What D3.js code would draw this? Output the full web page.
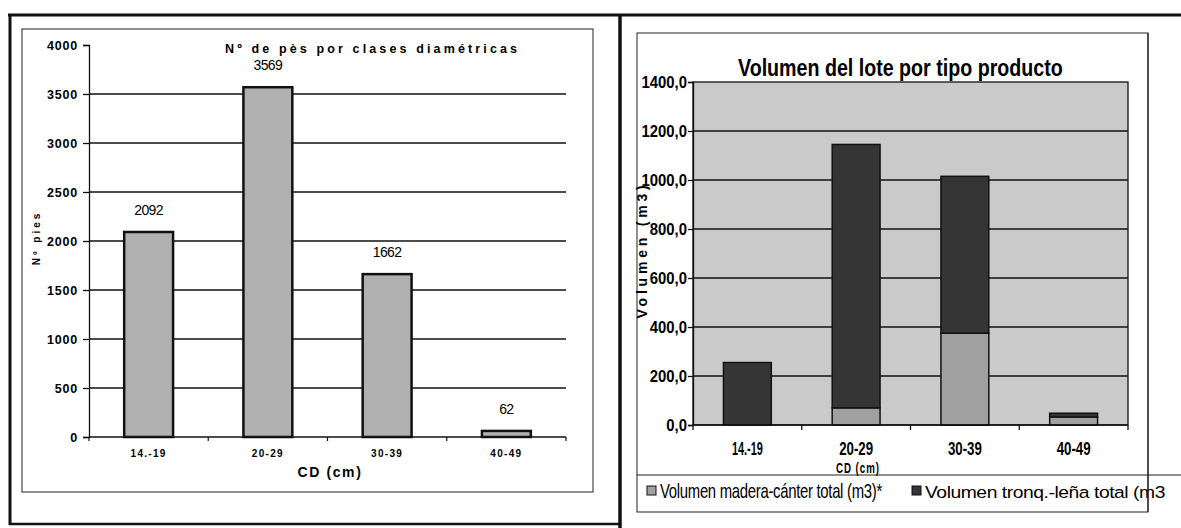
<!DOCTYPE html>
<html>
<head>
<meta charset="utf-8">
<script src="https://cdn.jsdelivr.net/npm/d3@7"></script>
<style>
body { margin: 0; background: #fff; }
text { fill: #000; }
</style>
</head>
<body>
<svg id="chart" width="1181" height="528"></svg>
<script>
// categorias de diametro
const categories = ["14.-19", "20-29", "30-39", "40-49"];
// n de pies por clase
const pies = [2092, 3569, 1662, 62];
const pieTicks = [0, 500, 1000, 1500, 2000, 2500, 3000, 3500, 4000];
// volumen por tipo de producto (m3)
const maderaVol = [0, 70, 375, 33];
const troncoVol = [255, 1075, 640, 15];
const volTicks = [0, 200, 400, 600, 800, 1000, 1200, 1400];
const seriesNames = ["Volumen madera-cánter total (m3)*", "Volumen tronq.-leña total (m3"];

const svg = d3.select("#chart");
const arial = "'Liberation Sans', Arial, sans-serif";

// texto estrechado (imita Arial Narrow): ajusta el ancho con scale horizontal
function squeeze(t, x, y, w, anchor) {
    t.attr("x", 0).attr("y", 0).attr("text-anchor", "start");
    let len = t.node().getComputedTextLength();
    let s = w / len;
    let x0 = anchor == "middle" ? x - w / 2 : (anchor == "end" ? x - w : x);
    t.attr("transform", "translate(" + x0 + "," + y + ") scale(" + s + ",1)");
    return t;
}

// marcos
svg.append("line").attr("x1", 8).attr("x2", 1181).attr("y1", 15).attr("y2", 15)
    .attr("stroke", "#111").attr("stroke-width", 3);
svg.append("line").attr("x1", 10).attr("x2", 10).attr("y1", 14).attr("y2", 525)
    .attr("stroke", "#111").attr("stroke-width", 3);
svg.append("line").attr("x1", 9).attr("x2", 620).attr("y1", 524).attr("y2", 524)
    .attr("stroke", "#111").attr("stroke-width", 2.5);
svg.append("line").attr("x1", 620).attr("x2", 620).attr("y1", 14).attr("y2", 528)
    .attr("stroke", "#111").attr("stroke-width", 3.5);

// ---------- grafico 1: n de pies ----------
let g1 = svg.append("g");
g1.append("rect").attr("x", 22).attr("y", 29).attr("width", 571).attr("height", 463)
    .attr("fill", "#fff").attr("stroke", "#222").attr("stroke-width", 1);

var x1 = d3.scaleBand().domain(categories).range([89, 566]).paddingInner(0.59).paddingOuter(0.295);
var y1 = d3.scaleLinear().domain([0, 4000]).range([437, 45]);

g1.selectAll(".grid").data(pieTicks.filter(d => d > 0 && d < 4000)).enter().append("line")
    .attr("x1", 89).attr("x2", 566)
    .attr("y1", d => y1(d)).attr("y2", d => y1(d))
    .attr("stroke", "#111").attr("stroke-width", 1.3);

let ax1 = g1.append("g").attr("transform", "translate(89,0)")
    .call(d3.axisLeft(y1).tickValues(pieTicks).tickSize(6).tickPadding(5).tickFormat(d3.format("d")));
ax1.select(".domain").attr("stroke", "#111").attr("stroke-width", 1.3);
ax1.selectAll("line").attr("stroke", "#111").attr("stroke-width", 1.3);
ax1.selectAll("text").attr("font-family", arial).attr("font-weight", "bold")
    .attr("font-size", 12.5).attr("letter-spacing", 0.8).attr("fill", "#000");

// eje x
g1.append("line").attr("x1", 89).attr("x2", 566).attr("y1", y1(0)).attr("y2", y1(0))
    .attr("stroke", "#111").attr("stroke-width", 1.5);
var step1 = x1.step();
g1.selectAll(".xt").data(d3.range(categories.length + 1)).enter().append("line")
    .attr("x1", i => 89 + i * step1).attr("x2", i => 89 + i * step1)
    .attr("y1", y1(0)).attr("y2", y1(0) + 4)
    .attr("stroke", "#111").attr("stroke-width", 1.2);

g1.selectAll(".bar").data(pies).enter().append("rect")
    .attr("x", (d, i) => x1(categories[i]))
    .attr("y", d => y1(d))
    .attr("width", x1.bandwidth())
    .attr("height", d => y1(0) - y1(d))
    .attr("fill", "#b0b0b0").attr("stroke", "#111").attr("stroke-width", 2.5);

g1.selectAll(".lab").data(pies).enter().append("text")
    .attr("x", (d, i) => x1(categories[i]) + x1.bandwidth() / 2)
    .attr("y", d => y1(d) - 17)
    .attr("text-anchor", "middle").attr("font-family", arial).attr("font-size", 14)
    .attr("letter-spacing", -0.6)
    .text(d => d);

g1.selectAll(".xl").data(categories).enter().append("text")
    .attr("x", d => x1(d) + x1.bandwidth() / 2).attr("y", 457)
    .attr("text-anchor", "middle").attr("font-family", arial).attr("font-weight", "bold")
    .attr("font-size", 10).attr("letter-spacing", 1.3)
    .text(d => d);

g1.append("text").attr("x", 330).attr("y", 477).attr("text-anchor", "middle")
    .attr("font-family", arial).attr("font-weight", "bold").attr("font-size", 14)
    .attr("letter-spacing", 1.6).text("CD (cm)");

g1.append("text").attr("x", 225).attr("y", 53)
    .attr("font-family", arial).attr("font-weight", "bold").attr("font-size", 12.5)
    .attr("textLength", 292).attr("lengthAdjust", "spacing")
    .text("Nº de pès por clases diamétricas");

g1.append("text").attr("transform", "translate(40,238) rotate(-90)")
    .attr("text-anchor", "middle").attr("font-family", arial).attr("font-weight", "bold")
    .attr("font-size", 10).attr("letter-spacing", 3).text("Nº pies");

// ---------- grafico 2: volumen ----------
let g2 = svg.append("g");
g2.append("rect").attr("x", 637).attr("y", 33).attr("width", 511).attr("height", 479)
    .attr("fill", "#fff").attr("stroke", "#222").attr("stroke-width", 1);

var x2 = d3.scaleBand().domain(categories).range([693, 1128]).paddingInner(0.56).paddingOuter(0.28);
var y2 = d3.scaleLinear().domain([0, 1400]).range([425, 82]);

g2.append("rect").attr("x", 693).attr("y", y2(1400)).attr("width", 1128 - 693)
    .attr("height", y2(0) - y2(1400)).attr("fill", "#cacaca")
    .attr("stroke", "#111").attr("stroke-width", 1.3);

g2.selectAll(".grid").data(volTicks.filter(d => d > 0 && d < 1400)).enter().append("line")
    .attr("x1", 693).attr("x2", 1128)
    .attr("y1", d => y2(d)).attr("y2", d => y2(d))
    .attr("stroke", "#111").attr("stroke-width", 1.3);

let stack = d3.stack().keys([0, 1])(categories.map((c, i) => [maderaVol[i], troncoVol[i]]));
let fills = ["#a0a0a0", "#353535"];

stack.forEach(function(layer, k) {
    g2.selectAll(".s" + k).data(layer).enter().append("rect")
        .attr("x", (d, i) => x2(categories[i]))
        .attr("y", d => y2(d[1]))
        .attr("width", x2.bandwidth())
        .attr("height", d => y2(d[0]) - y2(d[1]))
        .attr("fill", fills[k]).attr("stroke", "#111").attr("stroke-width", 1.5);
});

let ax2 = g2.append("g").attr("transform", "translate(693,0)")
    .call(d3.axisLeft(y2).tickValues(volTicks).tickSize(5).tickPadding(3)
        .tickFormat(d => d.toFixed(1).replace(".", ",")));
ax2.select(".domain").attr("stroke", "#111").attr("stroke-width", 1.3);
ax2.selectAll("line").attr("stroke", "#111").attr("stroke-width", 1.3);
ax2.selectAll("text").attr("font-family", arial).attr("font-weight", "bold")
    .attr("font-size", 16).attr("fill", "#000")
    .attr("x", 0).attr("transform", "translate(-6,0) scale(0.93,1)");

g2.append("line").attr("x1", 693).attr("x2", 1128).attr("y1", y2(0)).attr("y2", y2(0))
    .attr("stroke", "#111").attr("stroke-width", 1.5);
var step2 = x2.step();
g2.selectAll(".xt").data(d3.range(categories.length + 1)).enter().append("line")
    .attr("x1", i => 693 + i * step2).attr("x2", i => 693 + i * step2)
    .attr("y1", y2(0)).attr("y2", y2(0) + 5)
    .attr("stroke", "#111").attr("stroke-width", 1.3);

g2.selectAll(".xl").data(categories).enter().append("text")
    .attr("font-family", arial).attr("font-weight", "bold").attr("font-size", 18)
    .text(d => d)
    .each(function(d) {
        squeeze(d3.select(this), x2(d) + x2.bandwidth() / 2, 455, d == "14.-19" ? 31 : 34, "middle");
    });

squeeze(g2.append("text").attr("font-family", arial).attr("font-weight", "bold")
    .attr("font-size", 15).attr("letter-spacing", 1.5).text("CD (cm)"), 858, 473, 44, "middle");

squeeze(g2.append("text").attr("font-family", arial).attr("font-weight", "bold")
    .attr("font-size", 23).text("Volumen del lote por tipo producto"), 738, 76, 325, "start");

g2.append("text").attr("transform", "translate(647,250) rotate(-90)")
    .attr("text-anchor", "middle").attr("font-family", arial).attr("font-weight", "bold")
    .attr("font-size", 14).attr("letter-spacing", 3.8).text("Volumen (m3)");

// leyenda
g2.append("line").attr("x1", 637).attr("x2", 1181).attr("y1", 475).attr("y2", 475)
    .attr("stroke", "#222").attr("stroke-width", 1.2);
let legX = [647, 912], legW = [222, 240], legS = [20, 16.5];
seriesNames.forEach(function(name, k) {
    g2.append("rect").attr("x", legX[k]).attr("y", 486).attr("width", 9).attr("height", 9)
        .attr("fill", fills[k]).attr("stroke", "#111").attr("stroke-width", 1);
    squeeze(g2.append("text").attr("font-family", arial).attr("font-size", legS[k])
        .attr("letter-spacing", -0.4).text(name), legX[k] + 13, 498, legW[k], "start");
});
// borde derecho del marco por encima del texto
g2.append("line").attr("x1", 1148).attr("x2", 1148).attr("y1", 33).attr("y2", 512)
    .attr("stroke", "#222").attr("stroke-width", 1.2);
</script>
</body>
</html>
